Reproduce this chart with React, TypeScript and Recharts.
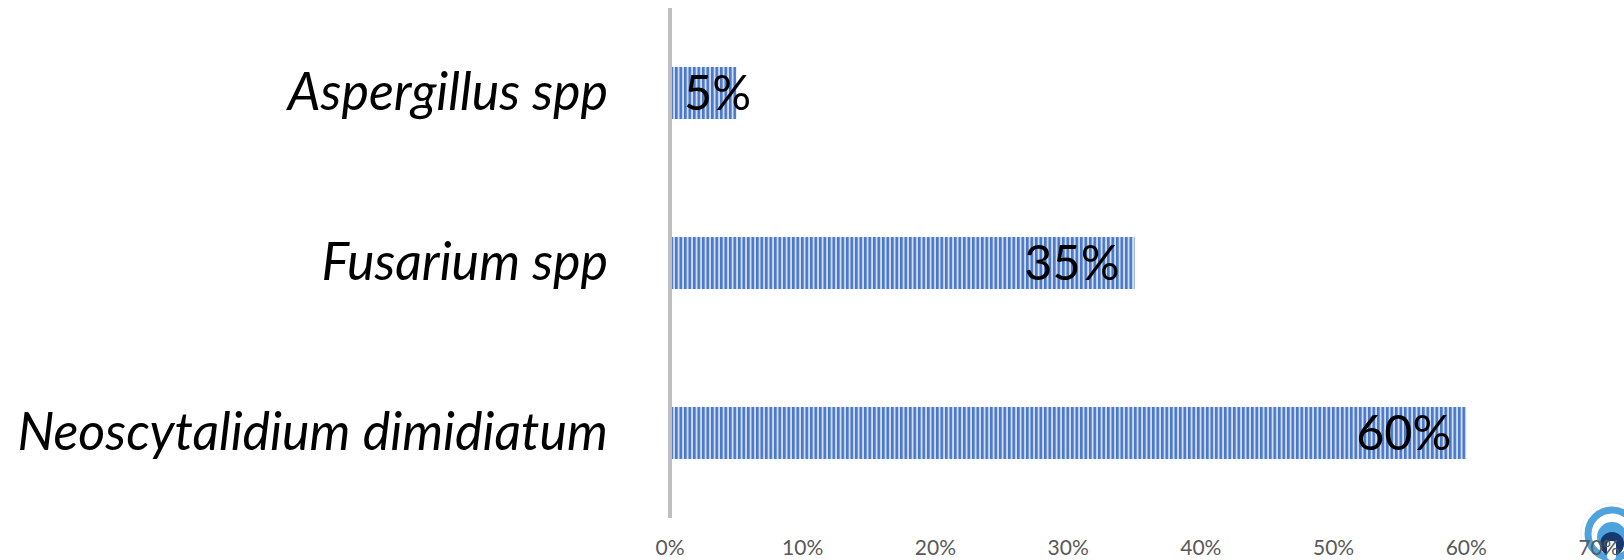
import React from "react";
import { BarChart, Bar, XAxis, YAxis, LabelList } from "recharts";

const categories = ["Aspergillus spp", "Fusarium spp", "Neoscytalidium dimidiatum"];
const shares = [5, 35, 60];
const xTicks = [0, 10, 20, 30, 40, 50, 60, 70];

const rows = categories.map((name, i) => ({ name, share: shares[i] }));

const FONT = 'Lato, "Open Sans", sans-serif';

const BarLabel = (props: any) => {
  const { x, y, width, height, value } = props;
  const right = x + Math.max(width - 15, 81);
  return (
    <text x={right} y={y + height / 2} dy="0.35em" textAnchor="end" fontSize={48.5} fontFamily={FONT} fill="#000">
      {value}%
    </text>
  );
};

const CategoryTick = (props: any) => {
  const { x, y, payload } = props;
  return (
    <text x={x} y={y} dy="0.33em" textAnchor="end" fontSize={52} fontStyle="italic" fontFamily={FONT} fill="#000">
      {payload.value}
    </text>
  );
};

export default function App() {
  return (
    <div style={{ position: "absolute", left: 0, top: 0, width: 1624, height: 560, overflow: "hidden", background: "#fff" }}>
      <svg width={60} height={60} style={{ position: "absolute", left: 1564, top: 500 }} aria-hidden="true">
        <circle cx={48} cy={34} r={31} fill="#ffffff" stroke="#f2f2f2" />
        <circle cx={48} cy={34} r={24} fill="none" stroke="#4ea3dc" strokeWidth={7} />
        <circle cx={48} cy={37} r={15} fill="#4ea3dc" />
        <circle cx={48} cy={44} r={12} fill="#163a70" />
        <rect x={43} y={41} width={9} height={19} rx={4} fill="#ffffff" />
      </svg>
      <div style={{ position: "absolute", left: 0, top: 0 }}>
        <BarChart
          width={1624}
          height={560}
          layout="vertical"
          data={rows}
          barSize={52}
          margin={{ top: 8, right: 25, bottom: 12, left: 0 }}
        >
          <defs>
            <pattern id="stripes" patternUnits="userSpaceOnUse" width={4.5} height={8}>
              <rect width={4.5} height={8} fill="#d0dcf2" />
              <rect width={2.6} height={8} fill="#4a78c8" />
            </pattern>
          </defs>
          <XAxis
            type="number"
            domain={[0, 70]}
            ticks={xTicks}
            tickFormatter={(v: number) => `${v}%`}
            axisLine={false}
            tickLine={false}
            interval={0}
            tickMargin={16}
            tick={{ fontSize: 21, fontFamily: FONT, fill: "#595959" }}
          />
          <YAxis
            type="category"
            dataKey="name"
            width={670}
            axisLine={{ stroke: "#bfbfbf", strokeWidth: 4 }}
            tickLine={false}
            tickMargin={56}
            tick={<CategoryTick />}
          />
          <Bar dataKey="share" fill="url(#stripes)" isAnimationActive={false}>
            <LabelList dataKey="share" content={<BarLabel />} />
          </Bar>
        </BarChart>
      </div>
    </div>
  );
}
